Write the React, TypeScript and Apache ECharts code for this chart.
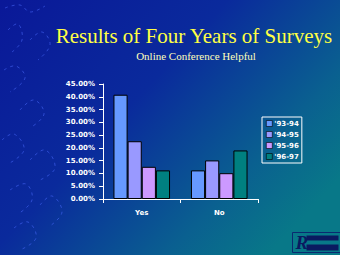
import React, { useEffect, useRef } from "react";
import * as echarts from "echarts";

const categories = ["Yes", "No"];
const seriesNames = ["'93-94", "'94-95", "'95-96", "'96-97"];
const values93 = [0.408, 0.112];
const values94 = [0.226, 0.151];
const values95 = [0.126, 0.101];
const values96 = [0.112, 0.190];
const seriesValues = [values93, values94, values95, values96];
const colors = ["#6699ff", "#9999ff", "#cc99ff", "#008080"];
const yTicks = { min: 0, max: 0.45, interval: 0.05 };

const dashStyle = { stroke: "#4a6cff", lineWidth: 1, lineDash: [3, 4], fill: "none", opacity: 0.55 };
const puzzleLines: number[][][] = [
  [[5, 8], [20, 5], [30, 12], [45, 6]],
  [[8, 30], [18, 24], [22, 40], [12, 52]],
  [[30, 40], [42, 32], [50, 45], [38, 60]],
  [[4, 70], [16, 66], [25, 78], [10, 92]],
  [[20, 110], [34, 100], [44, 114], [30, 128]],
  [[2, 140], [14, 134], [24, 150], [8, 164]],
  [[30, 160], [45, 150], [55, 168], [40, 180]],
  [[10, 190], [26, 184], [32, 200], [18, 214]],
  [[40, 205], [52, 196], [62, 212], [50, 226]],
  [[14, 228], [28, 222], [36, 238], [20, 250]],
];

export default function App() {
  const ref = useRef<HTMLDivElement>(null);
  useEffect(() => {
    document.body.style.margin = "0";
    const chart = echarts.init(ref.current!, undefined, { renderer: "svg" });
    chart.setOption({
      animation: false,
      backgroundColor: {
        type: "linear",
        x: 0,
        y: 0,
        x2: 1,
        y2: 0.7,
        colorStops: [
          { offset: 0, color: "#0a1898" },
          { offset: 0.45, color: "#0a2a9c" },
          { offset: 0.8, color: "#0a6090" },
          { offset: 1, color: "#087888" },
        ],
      },
      title: [
        {
          text: "Results of Four Years of Surveys",
          left: 189,
          top: 20,
          textAlign: "center",
          textStyle: {
            color: "#ffff44",
            fontFamily: "Liberation Serif",
            fontSize: 21,
            fontWeight: "normal",
          },
        },
        {
          text: "Online Conference Helpful",
          left: 191,
          top: 45,
          textAlign: "center",
          textStyle: {
            color: "#ffffbb",
            fontFamily: "Liberation Serif",
            fontSize: 11,
            fontWeight: "normal",
          },
        },
      ],
      legend: {
        orient: "vertical",
        left: 262,
        top: 117,
        data: seriesNames,
        borderColor: "#ffffff",
        borderWidth: 1,
        padding: [3, 3, 3, 4],
        itemWidth: 6,
        itemHeight: 6,
        itemGap: 4,
        icon: "rect",
        itemStyle: { borderWidth: 0.6, borderColor: "#000000" },
        textStyle: {
          color: "#ffffff",
          fontFamily: "DejaVu Sans",
          fontSize: 7,
          fontWeight: "bold",
          padding: [0, 0, 0, -3],
        },
      },
      grid: { left: 103, right: 82, top: 84, bottom: 56 },
      xAxis: {
        type: "category",
        data: categories,
        axisLine: { lineStyle: { color: "#ffffff", width: 1 } },
        axisTick: { show: true, length: 4, lineStyle: { color: "#ffffff" } },
        axisLabel: {
          color: "#ffffff",
          fontFamily: "DejaVu Sans",
          fontSize: 7,
          fontWeight: "bold",
          margin: 10,
        },
      },
      yAxis: {
        type: "value",
        min: yTicks.min,
        max: yTicks.max,
        interval: yTicks.interval,
        splitLine: { show: false },
        axisLine: { show: true, lineStyle: { color: "#ffffff", width: 1 } },
        axisTick: { show: true, length: 4, lineStyle: { color: "#ffffff" } },
        axisLabel: {
          color: "#ffffff",
          fontFamily: "DejaVu Sans",
          fontSize: 7,
          fontWeight: "bold",
          margin: 8,
          formatter: (v: number) => (v * 100).toFixed(2) + "%",
        },
      },
      series: seriesNames.map((name, i) => ({
        name,
        type: "bar",
        data: seriesValues[i],
        barGap: "0%",
        barCategoryGap: "27%",
        itemStyle: { color: colors[i], borderColor: "#000000", borderWidth: 1 },
      })),
      graphic: [
        ...puzzleLines.map((pts) => ({
          type: "polyline",
          silent: true,
          z: -1,
          shape: { points: pts, smooth: 0.4 },
          style: dashStyle,
        })),
        {
          type: "group",
          left: 290,
          top: 230,
          children: [
            { type: "rect", shape: { x: 0, y: 0, width: 49, height: 20 }, style: { fill: "none", stroke: "#0a2a70", lineWidth: 1 } },
            { type: "rect", shape: { x: 14, y: 3, width: 32, height: 5 }, style: { fill: "#0a1a60" } },
            { type: "rect", shape: { x: 14, y: 12, width: 32, height: 6 }, style: { fill: "#0a1a60" } },
            { type: "text", style: { x: 3, y: 0, text: "R", fill: "#0a1a60", font: "italic bold 19px Liberation Serif" } },
          ],
        },
      ],
    });
    return () => chart.dispose();
  }, []);
  return <div ref={ref} style={{ width: 340, height: 255 }} />;
}
